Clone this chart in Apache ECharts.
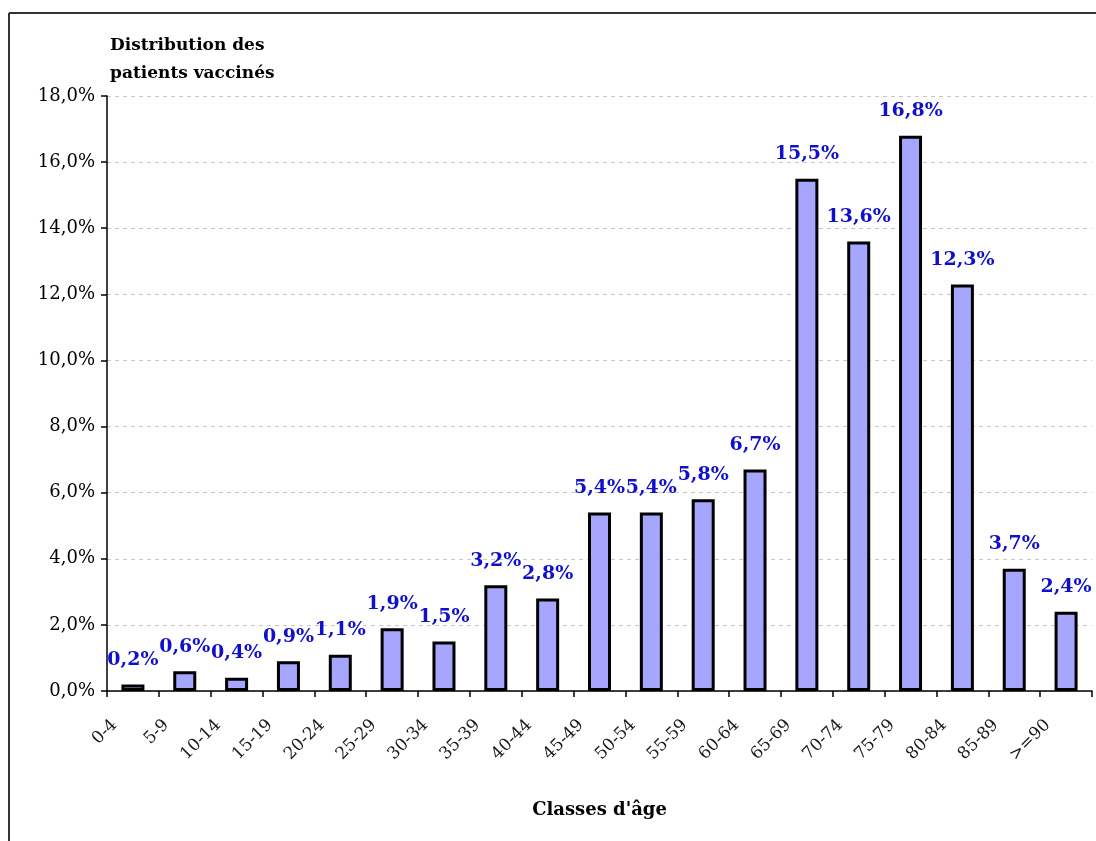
<!DOCTYPE html>
<html>
<head>
<meta charset="utf-8">
<title>Distribution des patients vaccinés par classe d'âge</title>
<script src="https://cdn.jsdelivr.net/npm/echarts@6/dist/echarts.min.js"></script>
<style>
  html, body { margin: 0; padding: 0; background: #ffffff; }
  #chart { width: 1096px; height: 841px; }
</style>
</head>
<body>
<div id="chart"></div>
<script>
// Age classes (x axis)
const ageClasses = ['0-4', '5-9', '10-14', '15-19', '20-24', '25-29', '30-34', '35-39', '40-44',
  '45-49', '50-54', '55-59', '60-64', '65-69', '70-74', '75-79', '80-84', '85-89', '>=90'];
// Share of vaccinated patients in each class, in %
const shareVaccinated = [0.2, 0.6, 0.4, 0.9, 1.1, 1.9, 1.5, 3.2, 2.8,
  5.4, 5.4, 5.8, 6.7, 15.5, 13.6, 16.8, 12.3, 3.7, 2.4];
// Value axis range and step, in %
const yMin = 0, yMax = 18, yStep = 2;

const serif = '"DejaVu Serif", "Liberation Serif", serif';
const pct = v => v.toFixed(1).replace('.', ',') + '%';

const chart = echarts.init(document.getElementById('chart'), null, { renderer: 'canvas' });

chart.setOption({
  animation: false,
  backgroundColor: '#ffffff',
  grid: { left: 107, right: 4, top: 96, bottom: 150, containLabel: false },
  xAxis: {
    type: 'category',
    data: ageClasses,
    name: "Classes d'âge",
    nameLocation: 'middle',
    nameGap: 110,
    nameTextStyle: { fontFamily: serif, fontWeight: 'bold', fontSize: 18, color: '#000' },
    axisLine: { show: true, lineStyle: { color: '#000', width: 1.5 } },
    axisTick: { show: true, alignWithLabel: false, length: 6, lineStyle: { color: '#000', width: 1.5 } },
    axisLabel: {
      rotate: 45,
      interval: 0,
      margin: 13,
      padding: [0, 26, 0, 0],
      fontFamily: serif,
      fontSize: 17,
      color: '#1a1a1a'
    },
    splitLine: { show: false }
  },
  yAxis: {
    type: 'value',
    min: yMin,
    max: yMax,
    interval: yStep,
    name: 'Distribution des\npatients vaccinés',
    nameLocation: 'end',
    nameGap: 8,
    nameTextStyle: {
      fontFamily: serif, fontWeight: 'bold', fontSize: 17, color: '#000',
      align: 'left', lineHeight: 28, padding: [0, 0, 0, 3]
    },
    axisLine: { show: true, lineStyle: { color: '#000', width: 1.5 } },
    axisTick: { show: true, inside: false, length: 6, lineStyle: { color: '#000', width: 1.5 } },
    axisLabel: {
      formatter: pct,
      fontFamily: serif,
      fontSize: 18,
      color: '#000',
      margin: 12
    },
    splitLine: { show: true, lineStyle: { color: '#c8c8c8', type: [4, 4], width: 1 } }
  },
  series: [{
    type: 'bar',
    data: shareVaccinated,
    barWidth: 23,
    itemStyle: { color: '#a6a6ff', borderColor: '#000', borderWidth: 3 },
    label: {
      show: true,
      position: 'top',
      distance: 15,
      formatter: p => pct(p.value),
      fontFamily: serif,
      fontWeight: 'bold',
      fontSize: 19,
      color: '#1010cc'
    }
  }],
  graphic: [
    { type: 'line', shape: { x1: 9, y1: 13, x2: 1096, y2: 13 }, style: { stroke: '#333', lineWidth: 2 } },
    { type: 'line', shape: { x1: 9, y1: 13, x2: 9, y2: 841 }, style: { stroke: '#333', lineWidth: 2 } }
  ]
});
</script>
</body>
</html>
